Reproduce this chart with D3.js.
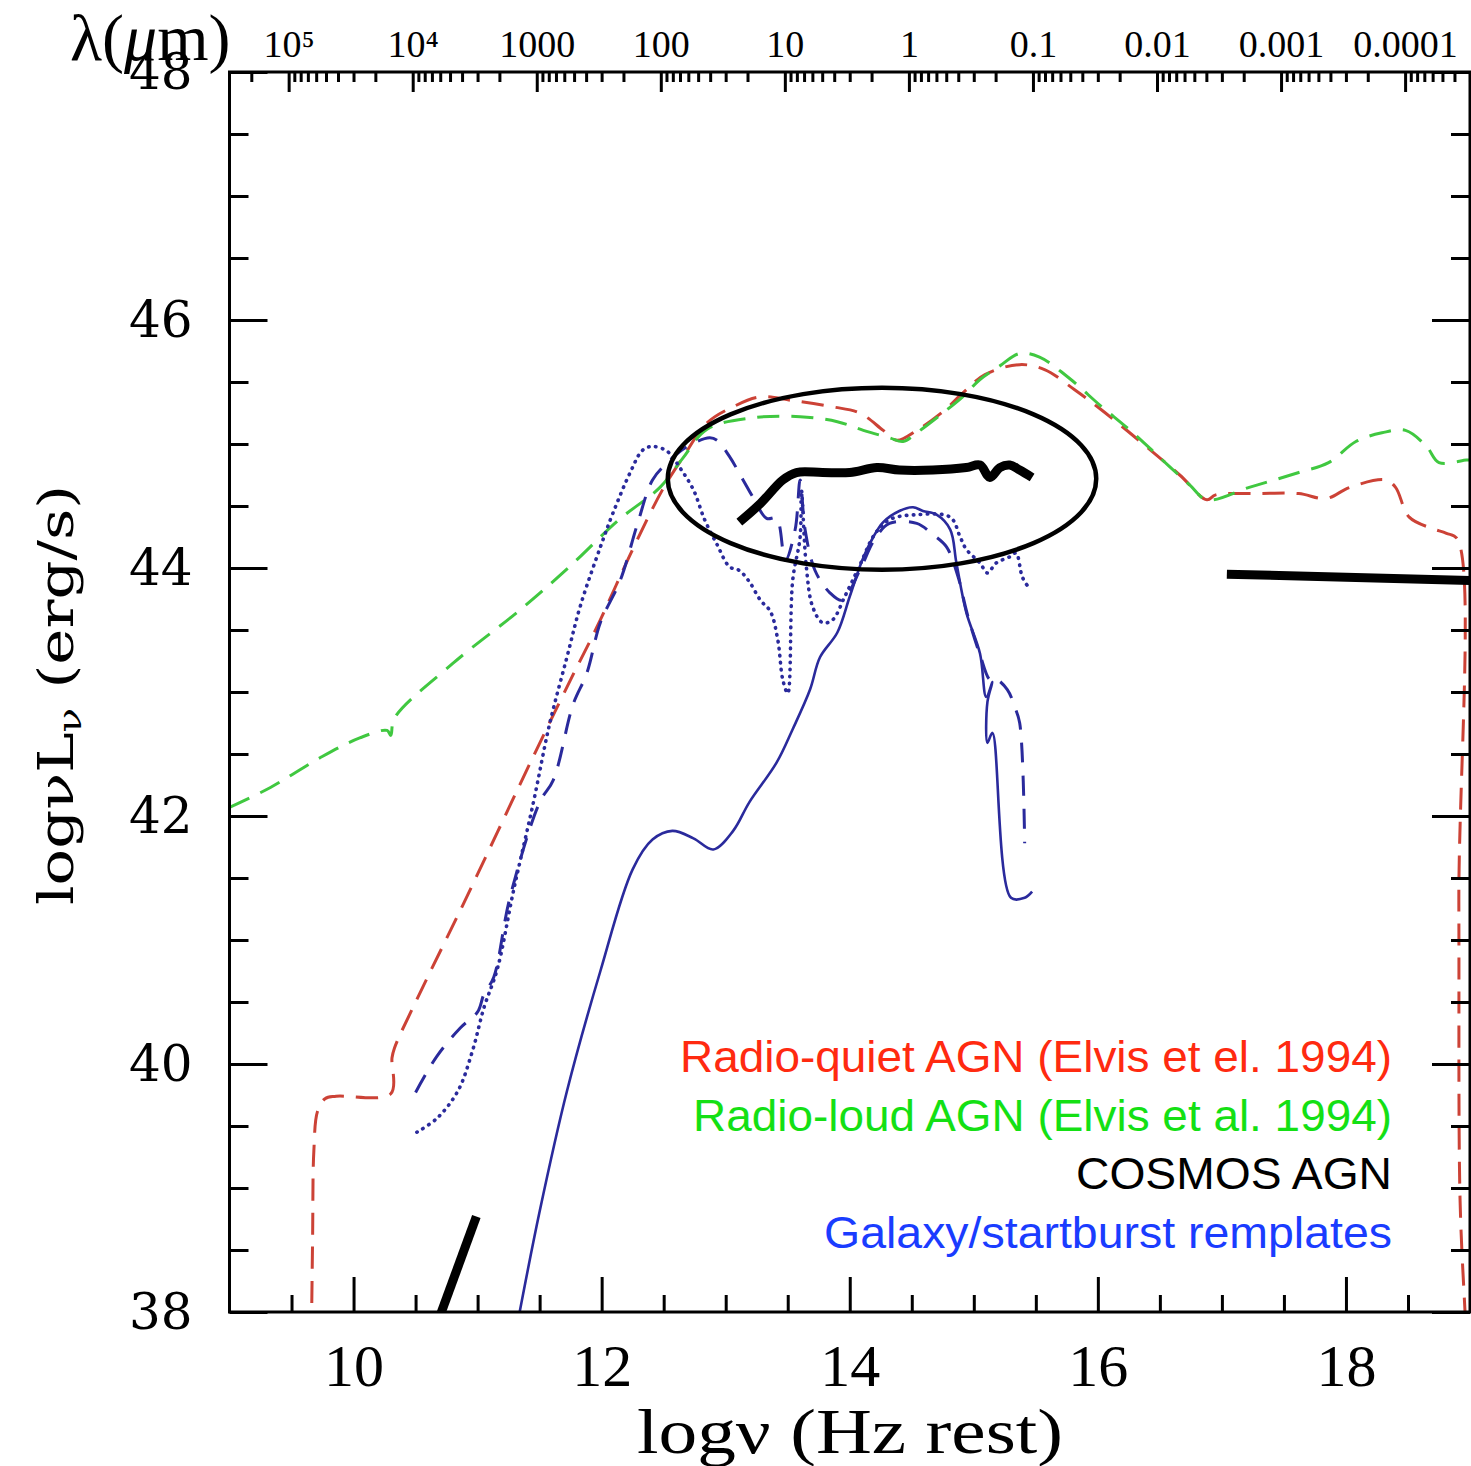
<!DOCTYPE html>
<html>
<head>
    <meta charset="utf-8">
    <title>AGN SED templates vs COSMOS AGN</title>
    <style>
        body { margin: 0; background: #ffffff; }
        #chart svg { display: block; }
    </style>
    <script src="https://d3js.org/d3.v7.min.js"></script>
</head>
<body>
    <div id="chart"></div>

    <script>
        // points are [log nu (Hz rest), log nuL_nu (erg/s)]
        var radioQuiet = [
            [9.66, 37.8], [9.67, 38.6], [9.68, 39.3], [9.71, 39.62], [9.77, 39.72], [9.86, 39.74],
            [10.30, 39.76], [10.31, 40.05], [10.33, 40.13], [10.51, 40.52], [10.88, 41.28], [11.16, 41.87],
            [11.42, 42.42], [11.75, 43.10], [11.96, 43.52], [12.25, 44.15], [12.49, 44.63], [12.66, 44.90],
            [12.85, 45.17], [13.06, 45.30], [13.28, 45.38], [13.54, 45.35], [13.86, 45.30], [14.08, 45.25],
            [14.27, 45.11], [14.38, 45.03], [14.54, 45.11], [14.75, 45.26], [14.91, 45.41], [15.09, 45.56],
            [15.37, 45.64], [15.57, 45.60], [15.81, 45.44], [16.01, 45.29], [16.33, 45.03], [16.66, 44.75],
            [16.88, 44.55], [16.95, 44.59], [17.30, 44.60], [17.62, 44.60], [17.84, 44.56], [18.03, 44.65],
            [18.32, 44.71], [18.40, 44.65], [18.51, 44.41], [18.69, 44.32], [18.81, 44.28], [18.90, 44.23],
            [18.91, 41.3], [18.92, 38.9], [18.96, 38.0], [18.97, 37.8]
        ];

        var radioLoud = [
            [9.0, 42.07], [9.33, 42.23], [9.73, 42.47], [10.05, 42.63], [10.27, 42.69], [10.30, 42.65],
            [10.33, 42.79], [10.80, 43.23], [11.34, 43.66], [11.74, 44.01], [12.14, 44.39], [12.47, 44.65],
            [12.65, 44.88], [12.85, 45.12], [13.20, 45.21], [13.60, 45.22], [13.90, 45.18], [14.11, 45.11],
            [14.32, 45.05], [14.43, 45.02], [14.54, 45.09], [14.75, 45.25], [14.91, 45.38], [15.05, 45.52],
            [15.21, 45.63], [15.37, 45.73], [15.53, 45.70], [15.77, 45.53], [16.02, 45.31], [16.26, 45.11],
            [16.50, 44.89], [16.74, 44.67], [16.88, 44.55], [17.22, 44.65], [17.62, 44.77], [17.86, 44.85],
            [18.08, 45.02], [18.29, 45.09], [18.48, 45.11], [18.65, 44.98], [18.75, 44.85], [18.97, 44.87],
            [19.0, 44.87]
        ];

        var cosmosRadio = [[10.69, 37.95], [10.99, 38.77]];
        var cosmosIR = [
            [13.11, 44.37], [13.28, 44.52], [13.46, 44.71], [13.57, 44.77], [13.78, 44.77], [14.00, 44.77],
            [14.22, 44.81], [14.40, 44.79], [14.67, 44.79], [14.94, 44.81], [15.05, 44.83], [15.13, 44.73],
            [15.21, 44.81], [15.29, 44.83], [15.37, 44.79], [15.47, 44.73]
        ];
        var cosmosXray = [[17.04, 43.95], [19.0, 43.90]];

        var galaxySolid = [
            [11.32, 37.9], [11.50, 38.81], [11.72, 39.78], [11.99, 40.75], [12.25, 41.57], [12.41, 41.81],
            [12.57, 41.88], [12.74, 41.82], [12.90, 41.73], [13.06, 41.88], [13.19, 42.11], [13.41, 42.43],
            [13.54, 42.70], [13.68, 43.02], [13.76, 43.28], [13.90, 43.48], [14.00, 43.77], [14.10, 44.06],
            [14.19, 44.25], [14.27, 44.37], [14.40, 44.46], [14.51, 44.49], [14.59, 44.46], [14.70, 44.43],
            [14.81, 44.31], [14.86, 44.04], [14.94, 43.64], [15.05, 43.31], [15.10, 42.96], [15.15, 43.08],
            [15.11, 42.92], [15.11, 42.59], [15.15, 42.67], [15.30, 41.34], [15.41, 41.34], [15.47, 41.39]
        ];

        var galaxyDashed = [
            [10.50, 39.77], [10.67, 40.06], [10.86, 40.29], [11.00, 40.42], [11.05, 40.56], [11.13, 40.70],
            [11.26, 41.34], [11.50, 42.11], [11.61, 42.29], [11.77, 42.90], [11.88, 43.15], [11.99, 43.56],
            [12.15, 43.90], [12.29, 44.36], [12.41, 44.71], [12.53, 44.85], [12.69, 44.98], [12.87, 45.05],
            [12.93, 45.03], [13.03, 44.90], [13.14, 44.71], [13.22, 44.57], [13.33, 44.40], [13.41, 44.40],
            [13.48, 44.06], [13.56, 44.31], [13.60, 44.71], [13.64, 44.31], [13.72, 43.98], [13.84, 43.80],
            [13.94, 43.74], [14.08, 43.98], [14.20, 44.23], [14.32, 44.36], [14.54, 44.36], [14.67, 44.27],
            [14.78, 44.17], [14.87, 43.94], [14.95, 43.62], [15.05, 43.30], [15.13, 43.10], [15.17, 43.11],
            [15.27, 43.02], [15.33, 42.88], [15.37, 42.75], [15.41, 41.78]
        ];

        var galaxyDotted = [
            [10.51, 39.45], [10.67, 39.56], [10.84, 39.78], [10.96, 40.11], [11.05, 40.45], [11.16, 40.77],
            [11.29, 41.40], [11.45, 42.11], [11.58, 42.74], [11.72, 43.28], [11.83, 43.70], [11.99, 44.17],
            [12.09, 44.44], [12.23, 44.77], [12.33, 44.95], [12.41, 44.98], [12.53, 44.94], [12.63, 44.81],
            [12.74, 44.63], [12.83, 44.39], [12.93, 44.19], [13.03, 44.01], [13.11, 43.98], [13.19, 43.89],
            [13.28, 43.74], [13.36, 43.65], [13.42, 43.42], [13.46, 43.10], [13.50, 42.99], [13.54, 43.90],
            [13.60, 44.25], [13.61, 44.63], [13.65, 44.01], [13.70, 43.69], [13.78, 43.56], [13.86, 43.58],
            [13.96, 43.77], [14.08, 44.02], [14.20, 44.27], [14.32, 44.39], [14.54, 44.43], [14.81, 44.41],
            [14.89, 44.25], [14.94, 44.15], [15.05, 44.04], [15.11, 43.96], [15.18, 44.04], [15.29, 44.09],
            [15.34, 44.12], [15.39, 43.93], [15.43, 43.86]
        ];

        // axis ticks and labels
        var xTicks = [10, 12, 14, 16, 18];
        var yTicks = [38, 40, 42, 44, 46, 48];
        var lambdaTicks = [1e5, 1e4, 1e3, 1e2, 10, 1, 0.1, 0.01, 0.001, 0.0001];
        var lambdaLabels = ['10\u2075', '10\u2074', '1000', '100', '10', '1', '0.1', '0.01', '0.001', '0.0001'];

        var legendLabels = [
            'Radio-quiet AGN (Elvis et el. 1994)',
            'Radio-loud AGN (Elvis et al. 1994)',
            'COSMOS AGN',
            'Galaxy/startburst remplates'
        ];
        var legendColors = ['#ff2a10', '#14e014', '#000000', '#1a3cff'];
        var legendWidths = [712, 699, 316, 568];

        // circled region: centre and half widths in data units
        var ringCenter = [14.26, 44.72];
        var ringRadius = [1.727, 0.734];

        var width = 1471, height = 1466;
        var plot = { left: 229.5, right: 1470, top: 72, bottom: 1312 };

        var svg = d3.select('#chart')
            .append('svg')
            .attr('width', width)
            .attr('height', height);

        var x = d3.scaleLinear().domain([9, 19]).range([plot.left, plot.right]);
        var y = d3.scaleLinear().domain([38, 48]).range([plot.bottom, plot.top]);

        // wavelength in micron for the top axis, lambda = c / nu
        var c = 2.998e14;
        var lam = d3.scaleLog().domain([c / 1e9, c / 1e19]).range([plot.left, plot.right]);

        svg.append('clipPath').attr('id', 'clip')
            .append('rect')
            .attr('x', plot.left).attr('y', plot.top)
            .attr('width', plot.right - plot.left)
            .attr('height', plot.bottom - plot.top);

        var smooth = d3.line()
            .curve(d3.curveCatmullRom.alpha(0.5))
            .x(function(d) { return x(d[0]); })
            .y(function(d) { return y(d[1]); });
        var straight = d3.line()
            .x(function(d) { return x(d[0]); })
            .y(function(d) { return y(d[1]); });

        var series = [
            { data: radioQuiet, color: '#cc4236', w: 3, dash: '22,12', line: smooth },
            { data: radioLoud, color: '#40c840', w: 3, dash: '22,12', line: smooth },
            { data: galaxyDotted, color: '#2a2a9c', w: 3.6, dash: '0.5,6.5', cap: 'round', line: smooth },
            { data: galaxyDashed, color: '#2a2a9c', w: 3, dash: '20,13', line: smooth },
            { data: galaxySolid, color: '#2a2a9c', w: 2.6, dash: null, line: smooth },
            { data: cosmosRadio, color: '#000', w: 9, dash: null, line: straight },
            { data: cosmosIR, color: '#000', w: 9, dash: null, line: smooth },
            { data: cosmosXray, color: '#000', w: 9, dash: null, line: straight }
        ];

        var curves = svg.append('g').attr('clip-path', 'url(#clip)');

        curves.selectAll('path')
            .data(series)
            .enter()
            .append('path')
            .attr('d', function(d) { return d.line(d.data); })
            .attr('fill', 'none')
            .attr('stroke', function(d) { return d.color; })
            .attr('stroke-width', function(d) { return d.w; })
            .attr('stroke-dasharray', function(d) { return d.dash; })
            .attr('stroke-linecap', function(d) { return d.cap || 'butt'; })
            .attr('stroke-linejoin', 'round');

        curves.append('ellipse')
            .attr('cx', x(ringCenter[0]))
            .attr('cy', y(ringCenter[1]))
            .attr('rx', x(ringCenter[0] + ringRadius[0]) - x(ringCenter[0]))
            .attr('ry', y(ringCenter[1]) - y(ringCenter[1] + ringRadius[1]))
            .attr('fill', 'none')
            .attr('stroke', '#000')
            .attr('stroke-width', 4.5);

        // axes, all ticks pointing inwards
        function styleAxis(g) {
            g.select('.domain').remove();
            g.selectAll('line').attr('stroke', '#000').attr('stroke-width', 3);
        }

        var xMinor = d3.range(9.5, 19, 0.5).filter(function(v) { return xTicks.indexOf(v) < 0; });
        var yMinor = d3.range(38.5, 48, 0.5).filter(function(v) { return yTicks.indexOf(v) < 0; });

        svg.append('g')
            .attr('transform', 'translate(0,' + plot.bottom + ')')
            .call(d3.axisBottom(x).tickValues(xMinor).tickSize(-17).tickFormat(''))
            .call(styleAxis);

        var xAxis = svg.append('g')
            .attr('transform', 'translate(0,' + plot.bottom + ')')
            .call(d3.axisBottom(x).tickValues(xTicks).tickSize(-35).tickPadding(31).tickFormat(d3.format('d')))
            .call(styleAxis);
        xAxis.selectAll('text')
            .attr('fill', '#000')
            .style('font-family', '"Liberation Serif", serif')
            .style('font-size', '60px');

        svg.append('g')
            .attr('transform', 'translate(' + plot.left + ',0)')
            .call(d3.axisLeft(y).tickValues(yMinor).tickSize(-19).tickFormat(''))
            .call(styleAxis);

        var yAxis = svg.append('g')
            .attr('transform', 'translate(' + plot.left + ',0)')
            .call(d3.axisLeft(y).tickValues(yTicks).tickSize(-38).tickPadding(37).tickFormat(d3.format('d')))
            .call(styleAxis);
        yAxis.selectAll('text')
            .attr('fill', '#000')
            .style('font-family', '"DejaVu Serif", serif')
            .style('font-size', '50px');

        svg.append('g')
            .attr('transform', 'translate(' + plot.right + ',0)')
            .call(d3.axisRight(y).tickValues(yMinor).tickSize(-19).tickFormat(''))
            .call(styleAxis);
        svg.append('g')
            .attr('transform', 'translate(' + plot.right + ',0)')
            .call(d3.axisRight(y).tickValues(yTicks).tickSize(-38).tickFormat(''))
            .call(styleAxis);

        // top wavelength axis: decades labelled, 2..9 as minor ticks
        var lamMinor = [];
        d3.range(-5, 6).forEach(function(p) {
            d3.range(2, 10).forEach(function(m) {
                var v = m * Math.pow(10, p);
                if (v > c / 1e19 && v < c / 1e9) lamMinor.push(v);
            });
        });

        svg.append('g')
            .attr('transform', 'translate(0,' + plot.top + ')')
            .call(d3.axisTop(lam).tickValues(lamMinor).tickSize(-10).tickFormat(''))
            .call(styleAxis);

        var topAxis = svg.append('g')
            .attr('transform', 'translate(0,' + plot.top + ')')
            .call(d3.axisTop(lam).tickValues(lambdaTicks).tickSize(-20).tickPadding(15)
                .tickFormat(function(d, i) { return lambdaLabels[i]; }))
            .call(styleAxis);
        topAxis.selectAll('text')
            .attr('fill', '#000')
            .style('font-family', '"Liberation Serif", serif')
            .style('font-size', '38px');

        // frame
        svg.append('rect')
            .attr('x', plot.left).attr('y', plot.top)
            .attr('width', plot.right - plot.left)
            .attr('height', plot.bottom - plot.top)
            .attr('fill', 'none')
            .attr('stroke', '#000')
            .attr('stroke-width', 3);

        // axis titles
        var lamTitle = svg.append('text')
            .attr('x', 70)
            .attr('y', 60)
            .style('font-family', '"Liberation Serif", serif')
            .style('font-size', '66px');
        lamTitle.append('tspan').text('\u03bb(');
        lamTitle.append('tspan').style('font-style', 'italic').text('\u03bc');
        lamTitle.append('tspan').text('m)');

        svg.append('text')
            .attr('x', 850)
            .attr('y', 1453)
            .attr('text-anchor', 'middle')
            .attr('textLength', 426)
            .attr('lengthAdjust', 'spacingAndGlyphs')
            .style('font-family', '"Liberation Serif", serif')
            .style('font-size', '64px')
            .text('log\u03bd (Hz rest)');

        var yTitle = svg.append('text')
            .attr('transform', 'translate(73,695) rotate(-90)')
            .attr('text-anchor', 'middle')
            .attr('textLength', 420)
            .attr('lengthAdjust', 'spacingAndGlyphs')
            .style('font-family', '"DejaVu Serif", serif')
            .style('font-size', '48px');
        yTitle.append('tspan').text('log\u03bdL');
        yTitle.append('tspan').attr('dy', 8).style('font-size', '32px').text('\u03bd');
        yTitle.append('tspan').attr('dy', -8).text(' (erg/s)');

        // legend
        svg.selectAll('.legend')
            .data(legendLabels)
            .enter()
            .append('text')
            .attr('class', 'legend')
            .attr('x', 1392)
            .attr('y', function(d, i) { return 1072 + i * 58.7; })
            .attr('text-anchor', 'end')
            .attr('textLength', function(d, i) { return legendWidths[i]; })
            .attr('lengthAdjust', 'spacingAndGlyphs')
            .attr('fill', function(d, i) { return legendColors[i]; })
            .style('font-family', '"Liberation Sans", Arial, sans-serif')
            .style('font-size', '45px')
            .text(function(d) { return d; });
    </script>
</body>
</html>
